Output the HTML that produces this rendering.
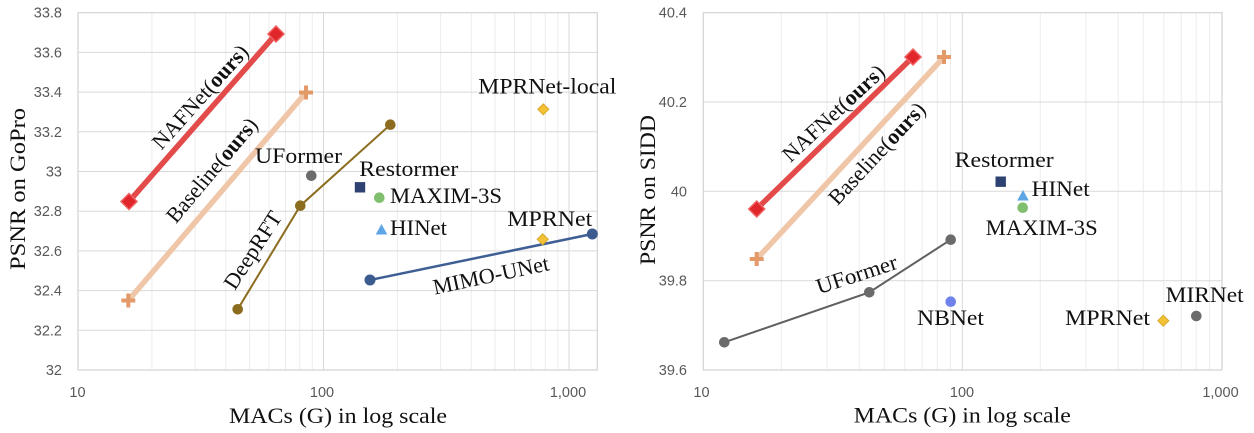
<!DOCTYPE html>
<html><head><meta charset="utf-8"><style>
html,body{margin:0;padding:0;background:#fff;}
svg{display:block;}
.tk{font-family:"Liberation Sans",sans-serif;font-size:14.5px;fill:#595959;}
.lb{font-family:"Liberation Serif",serif;font-size:22px;fill:#111;}
</style></head><body>
<svg width="1254" height="433" viewBox="0 0 1254 433" xmlns="http://www.w3.org/2000/svg">
<rect width="1254" height="433" fill="#fff"/>
<!-- LEFT CHART grid -->
<g stroke="#ececec" stroke-width="1">
<line x1="151.9" y1="12.7" x2="151.9" y2="370"/><line x1="195.1" y1="12.7" x2="195.1" y2="370"/><line x1="225.8" y1="12.7" x2="225.8" y2="370"/><line x1="249.6" y1="12.7" x2="249.6" y2="370"/><line x1="269" y1="12.7" x2="269" y2="370"/><line x1="285.5" y1="12.7" x2="285.5" y2="370"/><line x1="299.7" y1="12.7" x2="299.7" y2="370"/><line x1="312.3" y1="12.7" x2="312.3" y2="370"/>
<line x1="397.4" y1="12.7" x2="397.4" y2="370"/><line x1="440.6" y1="12.7" x2="440.6" y2="370"/><line x1="471.3" y1="12.7" x2="471.3" y2="370"/><line x1="495.1" y1="12.7" x2="495.1" y2="370"/><line x1="514.5" y1="12.7" x2="514.5" y2="370"/><line x1="531" y1="12.7" x2="531" y2="370"/><line x1="545.2" y1="12.7" x2="545.2" y2="370"/><line x1="557.8" y1="12.7" x2="557.8" y2="370"/>
</g>
<g stroke="#d9d9d9" stroke-width="1">
<line x1="323.5" y1="12.7" x2="323.5" y2="370"/><line x1="569" y1="12.7" x2="569" y2="370"/>
<line x1="78" y1="52.4" x2="597.3" y2="52.4"/><line x1="78" y1="92.1" x2="597.3" y2="92.1"/><line x1="78" y1="131.8" x2="597.3" y2="131.8"/><line x1="78" y1="171.5" x2="597.3" y2="171.5"/><line x1="78" y1="211.2" x2="597.3" y2="211.2"/><line x1="78" y1="250.9" x2="597.3" y2="250.9"/><line x1="78" y1="290.6" x2="597.3" y2="290.6"/><line x1="78" y1="330.3" x2="597.3" y2="330.3"/>
</g>
<rect x="78" y="12.7" width="519.3" height="357.3" fill="none" stroke="#d3d3d3" stroke-width="1.2"/>
<!-- left ticks -->
<g class="tk" text-anchor="end">
<text x="62" y="17.7">33.8</text><text x="62" y="57.4">33.6</text><text x="62" y="97.1">33.4</text><text x="62" y="136.8">33.2</text><text x="62" y="176.5">33</text><text x="62" y="216.2">32.8</text><text x="62" y="255.9">32.6</text><text x="62" y="295.6">32.4</text><text x="62" y="335.3">32.2</text><text x="62" y="375">32</text>
</g>
<g class="tk" text-anchor="middle">
<text x="77.5" y="397">10</text><text x="322" y="397">100</text><text x="568" y="397">1,000</text>
</g>
<!-- left series lines -->
<line x1="129" y1="201.5" x2="276" y2="34" stroke="#e34a4a" stroke-width="5.5"/>
<line x1="128.3" y1="300.5" x2="306" y2="92.5" stroke="#f0c6a8" stroke-width="5.5"/>
<polyline points="237.7,309.3 300.3,205.7 390.3,124.7" fill="none" stroke="#8c6d1f" stroke-width="2"/>
<line x1="370" y1="280" x2="592.3" y2="234" stroke="#3f5f94" stroke-width="2.5"/>
<!-- left markers -->
<path d="M129,193.5 L137,201.5 L129,209.5 L121,201.5 Z" fill="#e0262b" stroke="#f06262" stroke-width="1.5"/>
<path d="M276,26 L284,34 L276,42 L268,34 Z" fill="#e0262b" stroke="#f06262" stroke-width="1.5"/>
<g stroke="#e49a68" stroke-width="4">
<line x1="121.3" y1="300.5" x2="135.3" y2="300.5"/><line x1="128.3" y1="293.5" x2="128.3" y2="307.5"/>
<line x1="299" y1="92.5" x2="313" y2="92.5"/><line x1="306" y1="85.5" x2="306" y2="99.5"/>
</g>
<g fill="#8c6d1f"><circle cx="237.7" cy="309.3" r="5.3"/><circle cx="300.3" cy="205.7" r="5.3"/><circle cx="390.3" cy="124.7" r="5.3"/></g>
<circle cx="311.3" cy="175.7" r="5.3" fill="#6b6b6b"/>
<rect x="354.8" y="182.1" width="10.4" height="10.4" fill="#2e4272"/>
<circle cx="379.3" cy="197.7" r="5.3" fill="#7fbf6e"/>
<path d="M381.5,224 L387.3,234.5 L375.7,234.5 Z" fill="#5da5e5"/>
<path d="M542.7,233.8 L548.2,239.3 L542.7,244.8 L537.2,239.3 Z" fill="#f2c136" stroke="#d9a92b" stroke-width="1"/>
<path d="M543.3,103.8 L548.8,109.3 L543.3,114.8 L537.8,109.3 Z" fill="#f2c136" stroke="#d9a92b" stroke-width="1"/>
<g fill="#3b5b8f"><circle cx="370" cy="280" r="5.5"/><circle cx="592.3" cy="234" r="5.5"/></g>
<!-- left labels -->
<g class="lb">
<text transform="translate(205.6,101.7) rotate(-48)" text-anchor="middle" textLength="132" lengthAdjust="spacingAndGlyphs">NAFNet(<tspan font-weight="bold">ours</tspan>)</text>
<text transform="translate(217.4,174.8) rotate(-50)" text-anchor="middle" textLength="129" lengthAdjust="spacingAndGlyphs">Baseline(<tspan font-weight="bold">ours</tspan>)</text>
<text transform="translate(258.8,254.1) rotate(-57)" text-anchor="middle" textLength="88" lengthAdjust="spacingAndGlyphs">DeepRFT</text>
<text transform="translate(492.4,282.3) rotate(-12)" text-anchor="middle" textLength="118" lengthAdjust="spacingAndGlyphs">MIMO-UNet</text>
<text x="255" y="163" textLength="87" lengthAdjust="spacingAndGlyphs">UFormer</text>
<text x="359.3" y="176" textLength="99" lengthAdjust="spacingAndGlyphs">Restormer</text>
<text x="390" y="203" textLength="112" lengthAdjust="spacingAndGlyphs">MAXIM-3S</text>
<text x="478.3" y="93.3" textLength="138" lengthAdjust="spacingAndGlyphs">MPRNet-local</text>
<text x="390" y="235" textLength="57" lengthAdjust="spacingAndGlyphs">HINet</text>
<text x="507.3" y="226" textLength="85" lengthAdjust="spacingAndGlyphs">MPRNet</text>
<text x="338" y="423" text-anchor="middle" textLength="218" lengthAdjust="spacingAndGlyphs">MACs (G) in log scale</text>
<text transform="translate(25,189) rotate(-90)" text-anchor="middle" textLength="162" lengthAdjust="spacingAndGlyphs">PSNR on GoPro</text>
</g>

<!-- RIGHT CHART grid -->
<g stroke="#ececec" stroke-width="1">
<line x1="781.3" y1="12.7" x2="781.3" y2="370"/><line x1="826.9" y1="12.7" x2="826.9" y2="370"/><line x1="859.2" y1="12.7" x2="859.2" y2="370"/><line x1="884.3" y1="12.7" x2="884.3" y2="370"/><line x1="904.8" y1="12.7" x2="904.8" y2="370"/><line x1="922.2" y1="12.7" x2="922.2" y2="370"/><line x1="937.2" y1="12.7" x2="937.2" y2="370"/><line x1="950.5" y1="12.7" x2="950.5" y2="370"/>
<line x1="1040.3" y1="12.7" x2="1040.3" y2="370"/><line x1="1085.9" y1="12.7" x2="1085.9" y2="370"/><line x1="1118.2" y1="12.7" x2="1118.2" y2="370"/><line x1="1143.3" y1="12.7" x2="1143.3" y2="370"/><line x1="1163.8" y1="12.7" x2="1163.8" y2="370"/><line x1="1181.2" y1="12.7" x2="1181.2" y2="370"/><line x1="1196.2" y1="12.7" x2="1196.2" y2="370"/><line x1="1209.5" y1="12.7" x2="1209.5" y2="370"/>
</g>
<g stroke="#d9d9d9" stroke-width="1">
<line x1="962.3" y1="12.7" x2="962.3" y2="370"/>
<line x1="703.3" y1="102" x2="1222" y2="102"/><line x1="703.3" y1="191.3" x2="1222" y2="191.3"/><line x1="703.3" y1="280.7" x2="1222" y2="280.7"/>
</g>
<rect x="703.3" y="12.7" width="518.7" height="357.3" fill="none" stroke="#d3d3d3" stroke-width="1.2"/>
<g class="tk" text-anchor="end">
<text x="687" y="17.7">40.4</text><text x="687" y="107">40.2</text><text x="687" y="196.3">40</text><text x="687" y="285.7">39.8</text><text x="687" y="375">39.6</text>
</g>
<g class="tk" text-anchor="middle">
<text x="701.5" y="397">10</text><text x="962" y="397">100</text><text x="1220.5" y="397">1,000</text>
</g>
<!-- right series -->
<line x1="756.7" y1="209" x2="913" y2="57" stroke="#e34a4a" stroke-width="5.5"/>
<line x1="756.7" y1="259" x2="944" y2="57" stroke="#f0c6a8" stroke-width="5.5"/>
<polyline points="724.3,342.3 869.3,292.3 950.7,239.7" fill="none" stroke="#606060" stroke-width="2"/>
<path d="M756.7,201 L764.7,209 L756.7,217 L748.7,209 Z" fill="#e0262b" stroke="#f06262" stroke-width="1.5"/>
<path d="M913,49 L921,57 L913,65 L905,57 Z" fill="#e0262b" stroke="#f06262" stroke-width="1.5"/>
<g stroke="#e49a68" stroke-width="4">
<line x1="749.7" y1="259" x2="763.7" y2="259"/><line x1="756.7" y1="252" x2="756.7" y2="266"/>
<line x1="937" y1="57" x2="951" y2="57"/><line x1="944" y1="50" x2="944" y2="64"/>
</g>
<g fill="#6b6b6b"><circle cx="724.3" cy="342.3" r="5.3"/><circle cx="869.3" cy="292.3" r="5.3"/><circle cx="950.7" cy="239.7" r="5.3"/><circle cx="1196.3" cy="316" r="5.3"/></g>
<rect x="995.5" y="176.5" width="10.4" height="10.4" fill="#2e4272"/>
<circle cx="1022.7" cy="207.7" r="5.3" fill="#7fbf6e"/>
<path d="M1023,190 L1028.8,200.5 L1017.2,200.5 Z" fill="#5da5e5"/>
<circle cx="950.7" cy="301.7" r="5.3" fill="#6f82ec"/>
<path d="M1163.3,315.2 L1168.8,320.7 L1163.3,326.2 L1157.8,320.7 Z" fill="#f2c136" stroke="#d9a92b" stroke-width="1"/>
<g class="lb">
<text transform="translate(838.4,118.5) rotate(-43)" text-anchor="middle" textLength="131" lengthAdjust="spacingAndGlyphs">NAFNet(<tspan font-weight="bold">ours</tspan>)</text>
<text transform="translate(882.2,158.4) rotate(-47)" text-anchor="middle" textLength="131" lengthAdjust="spacingAndGlyphs">Baseline(<tspan font-weight="bold">ours</tspan>)</text>
<text transform="translate(859,281.3) rotate(-18)" text-anchor="middle" textLength="84" lengthAdjust="spacingAndGlyphs">UFormer</text>
<text x="954.7" y="167" textLength="99" lengthAdjust="spacingAndGlyphs">Restormer</text>
<text x="1031.7" y="196" textLength="58" lengthAdjust="spacingAndGlyphs">HINet</text>
<text x="985.7" y="235" textLength="112" lengthAdjust="spacingAndGlyphs">MAXIM-3S</text>
<text x="917" y="325" textLength="67" lengthAdjust="spacingAndGlyphs">NBNet</text>
<text x="1065" y="325" textLength="85" lengthAdjust="spacingAndGlyphs">MPRNet</text>
<text x="1165.7" y="302" textLength="78" lengthAdjust="spacingAndGlyphs">MIRNet</text>
<text x="962.3" y="422.5" text-anchor="middle" textLength="217" lengthAdjust="spacingAndGlyphs">MACs (G) in log scale</text>
<text transform="translate(655,190) rotate(-90)" text-anchor="middle" textLength="150" lengthAdjust="spacingAndGlyphs">PSNR on SIDD</text>
</g>
</svg>
</body></html>
